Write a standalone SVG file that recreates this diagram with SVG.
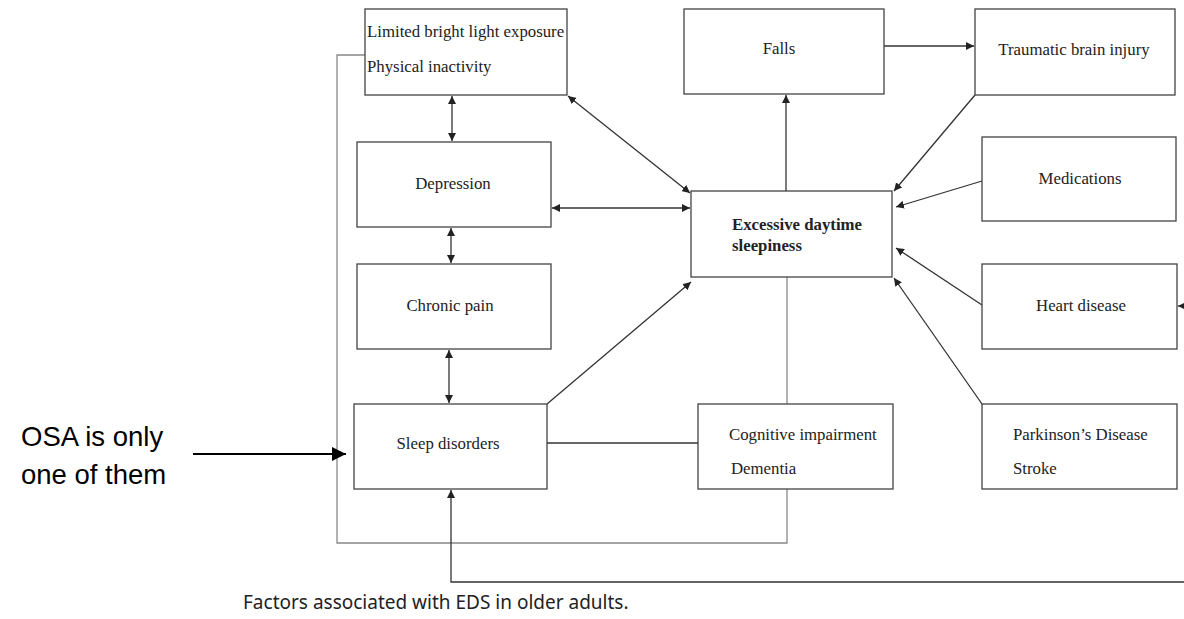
<svg xmlns="http://www.w3.org/2000/svg" width="1184" height="619" viewBox="0 0 1184 619">
<defs>
<style>
.box{fill:#fff;stroke:#444;stroke-width:1.3}
.t{font-family:"Liberation Serif","Times New Roman",serif;font-size:16.8px;fill:#222}
.tc{text-anchor:middle}
.b{font-weight:bold}
.c{fill:none;stroke:#333;stroke-width:1.3}
.g{fill:none;stroke:#888;stroke-width:1.3}
</style>
<marker id="ah" viewBox="0 0 10 10" refX="10" refY="5" markerWidth="8" markerHeight="8" markerUnits="userSpaceOnUse" orient="auto-start-reverse"><path d="M0,0 L10,5 L0,10 z" fill="#222"/></marker>
<marker id="ahb" viewBox="0 0 10 10" refX="10" refY="5" markerWidth="14" markerHeight="14" markerUnits="userSpaceOnUse" orient="auto"><path d="M0,0 L10,5 L0,10 z" fill="#000"/></marker>
</defs>
<rect width="1184" height="619" fill="#fff"/>
<g id="connectors">
<path class="g" d="M365,55 H337 V543 H787 V489"/>
<path class="g" d="M787,277 V404"/>
<path class="c" d="M547,443 H698"/>
<path class="c" d="M1184,582 H451 V490" marker-end="url(#ah)"/>
<path class="c" d="M1184,306 H1178" marker-end="url(#ah)"/>
<path class="c" d="M547,404 L691,282" marker-end="url(#ah)"/>
<path class="c" d="M452,96 V141" marker-start="url(#ah)" marker-end="url(#ah)"/>
<path class="c" d="M451,228 V263" marker-start="url(#ah)" marker-end="url(#ah)"/>
<path class="c" d="M449,350 V403" marker-start="url(#ah)" marker-end="url(#ah)"/>
<path class="c" d="M552,208 H690" marker-start="url(#ah)" marker-end="url(#ah)"/>
<path class="c" d="M568,96 L690,193" marker-start="url(#ah)" marker-end="url(#ah)"/>
<path class="c" d="M786,191 V95" marker-end="url(#ah)"/>
<path class="c" d="M884,46 H974" marker-end="url(#ah)"/>
<path class="c" d="M975,95 L894,191" marker-end="url(#ah)"/>
<path class="c" d="M982,181 L896,207" marker-end="url(#ah)"/>
<path class="c" d="M982,305 L896,248" marker-end="url(#ah)"/>
<path class="c" d="M982,404 L894,278" marker-end="url(#ah)"/>
<path d="M193,454 H346" stroke="#000" stroke-width="2.2" fill="none" marker-end="url(#ahb)"/>
</g>
<g id="n-light"><rect class="box" x="365" y="9" width="202" height="86"/><text class="t" x="367" y="37">Limited bright light exposure</text><text class="t" x="367" y="72">Physical inactivity</text></g>
<g id="n-falls"><rect class="box" x="684" y="9" width="200" height="85"/><text class="t tc" x="779" y="54">Falls</text></g>
<g id="n-tbi"><rect class="box" x="975" y="9" width="200" height="86"/><text class="t tc" x="1074" y="55">Traumatic brain injury</text></g>
<g id="n-dep"><rect class="box" x="357" y="142" width="194" height="85"/><text class="t tc" x="453" y="189">Depression</text></g>
<g id="n-eds"><rect class="box" x="691" y="191" width="201" height="86"/><text class="t b" x="732" y="230">Excessive daytime</text><text class="t b" x="732" y="251">sleepiness</text></g>
<g id="n-med"><rect class="box" x="982" y="137" width="194" height="84"/><text class="t tc" x="1080" y="184">Medications</text></g>
<g id="n-pain"><rect class="box" x="357" y="264" width="194" height="85"/><text class="t tc" x="450" y="311">Chronic pain</text></g>
<g id="n-heart"><rect class="box" x="982" y="264" width="195" height="85"/><text class="t tc" x="1081" y="311">Heart disease</text></g>
<g id="n-sleep"><rect class="box" x="354" y="404" width="193" height="85"/><text class="t tc" x="448" y="449">Sleep disorders</text></g>
<g id="n-cog"><rect class="box" x="698" y="404" width="195" height="85"/><text class="t" x="729" y="440">Cognitive impairment</text><text class="t" x="731" y="474">Dementia</text></g>
<g id="n-park"><rect class="box" x="982" y="404" width="195" height="85"/><text class="t" x="1013" y="440">Parkinson’s Disease</text><text class="t" x="1013" y="474">Stroke</text></g>
<g id="n-osa"><text x="21" y="446" font-family="Liberation Sans, Arial, sans-serif" font-size="27.5" fill="#000">OSA is only</text><text x="21" y="484" font-family="Liberation Sans, Arial, sans-serif" font-size="27.5" fill="#000">one of them</text></g>
<text x="243" y="609" font-family="Noto Sans, Open Sans, sans-serif" font-size="19" fill="#222">Factors associated with EDS in older adults.</text>
</svg>
